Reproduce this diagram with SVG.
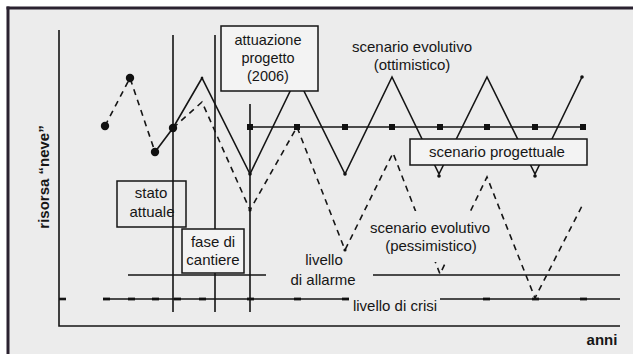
<svg xmlns="http://www.w3.org/2000/svg" width="633" height="354" viewBox="0 0 633 354">
<style>
.ln{stroke:#151515;stroke-width:1.6;fill:none}
.dash{stroke:#151515;stroke-width:1.6;fill:none;stroke-dasharray:6 5}
.box{stroke:#151515;stroke-width:1.5}
.t{font-family:"Liberation Sans",Arial,sans-serif;font-size:15px;fill:#161616;text-anchor:middle}
.b{font-weight:bold}
.sq{fill:#111}
.dot{fill:#111}
.bg{fill:#ececec}
</style>
<rect x="0" y="0" width="633" height="354" fill="#ffffff"/>
<rect x="8" y="8" width="625" height="346" fill="#ececec"/>
<g id="frame">
<line x1="6.5" y1="8" x2="633" y2="8" stroke="#2a2230" stroke-width="3"/>
<line x1="8" y1="6.5" x2="8" y2="354" stroke="#2a2230" stroke-width="3"/>
</g>
<g id="axes">
<polyline class="ln" points="59,30 59,326 620,326"/>
<line x1="59" y1="299" x2="66" y2="299" stroke="#151515" stroke-width="2.6"/>
</g>
<g id="verticals">
<line class="ln" x1="173" y1="35" x2="173" y2="312"/>
<line class="ln" x1="215" y1="35" x2="215" y2="312"/>
<line class="ln" x1="250" y1="104" x2="250" y2="312"/>
</g>
<g id="levels">
<line class="ln" x1="128" y1="275" x2="266" y2="275"/>
<line class="ln" x1="373" y1="275" x2="620" y2="275"/>
<line class="ln" x1="107" y1="299" x2="348" y2="299"/>
<line class="ln" x1="440" y1="299" x2="620" y2="299"/>
<g class="sq">
<rect x="103" y="297.6" width="7" height="2.8"/>
<rect x="128" y="297.6" width="7" height="2.8"/>
<rect x="152" y="297.6" width="7" height="2.8"/>
<rect x="174" y="297.6" width="7" height="2.8"/>
<rect x="199" y="297.6" width="7" height="2.8"/>
<rect x="247" y="297.6" width="7" height="2.8"/>
<rect x="294" y="297.6" width="7" height="2.8"/>
<rect x="342" y="297.6" width="7" height="2.8"/>
<rect x="483" y="297.6" width="7" height="2.8"/>
<rect x="532" y="297.6" width="7" height="2.8"/>
<rect x="580" y="297.6" width="7" height="2.8"/>
</g>
</g>
<g id="connectors">
<polyline class="dash" points="105,126 130,78 155,152"/>
<polyline class="ln" points="155,152 173,128 202,78 250,174 297,77 345,174 392,77 439,174 487,77 535,174 582,77"/>
<polyline class="dash" points="173,128 202,102 250,210 297,127 345,250 393,153 440,274 487,177 535,298 583,204"/>
<line class="ln" x1="250" y1="127" x2="583" y2="127"/>
<g class="sq">
<rect x="247" y="124" width="6" height="6"/>
<rect x="294" y="124" width="6" height="6"/>
<rect x="342" y="124" width="6" height="6"/>
<rect x="389" y="124" width="6" height="6"/>
<rect x="437" y="124" width="6" height="6"/>
<rect x="484" y="124" width="6" height="6"/>
<rect x="532" y="124" width="6" height="6"/>
<rect x="580" y="124" width="6" height="6"/>
</g>
<g class="dot">
<circle cx="105" cy="126" r="4.2"/>
<circle cx="130" cy="78" r="4.2"/>
<circle cx="155" cy="152" r="4.2"/>
<circle cx="173" cy="128" r="4.2"/>
<circle cx="250" cy="174" r="1.8"/>
<circle cx="345" cy="174" r="1.8"/>
<circle cx="439" cy="176" r="1.8"/>
<circle cx="535" cy="176" r="1.8"/>
<circle cx="582" cy="77" r="1.8"/>
<circle cx="202" cy="78" r="1.3"/>
<circle cx="250" cy="210" r="1.6"/>
<circle cx="345" cy="250" r="1.6"/>
</g>
</g>
<g id="attuazione">
<rect class="box" x="221" y="26" width="97" height="65" fill="#f3f3f3"/>
<text class="t" x="268" y="45" style="font-size:14.5px">attuazione</text>
<text class="t" x="268" y="63" style="font-size:14.5px">progetto</text>
<text class="t" x="268" y="81" style="font-size:14.5px">(2006)</text>
</g>
<g id="stato-attuale">
<rect class="box" x="117" y="181" width="69" height="46" fill="none"/>
<text class="t" x="151" y="198">stato</text>
<text class="t" x="152" y="217">attuale</text>
</g>
<g id="fase-cantiere">
<rect class="box" x="182" y="229" width="62" height="44" fill="#f3f3f3"/>
<text class="t" x="213" y="247">fase di</text>
<text class="t" x="213" y="265">cantiere</text>
</g>
<g id="scenario-progettuale">
<rect class="box" x="410" y="139" width="177" height="26" fill="#f3f3f3"/>
<text class="t" x="497" y="157">scenario progettuale</text>
</g>
<g id="ottimistico">
<text class="t" x="412" y="52">scenario evolutivo</text>
<text class="t" x="412" y="70">(ottimistico)</text>
</g>
<g id="pessimistico">
<rect class="bg" x="366" y="211" width="130" height="51"/>
<text class="t" x="430" y="233">scenario evolutivo</text>
<text class="t" x="431" y="251">(pessimistico)</text>
</g>
<g id="allarme">
<text class="t" x="324" y="265">livello</text>
<text class="t" x="323" y="285">di allarme</text>
</g>
<g id="crisi">
<text class="t" x="395" y="311">livello di crisi</text>
</g>
<g id="labels">
<text class="t b" x="602" y="345">anni</text>
<text class="t b" transform="translate(49,177) rotate(-90)">risorsa “neve”</text>
</g>
</svg>
